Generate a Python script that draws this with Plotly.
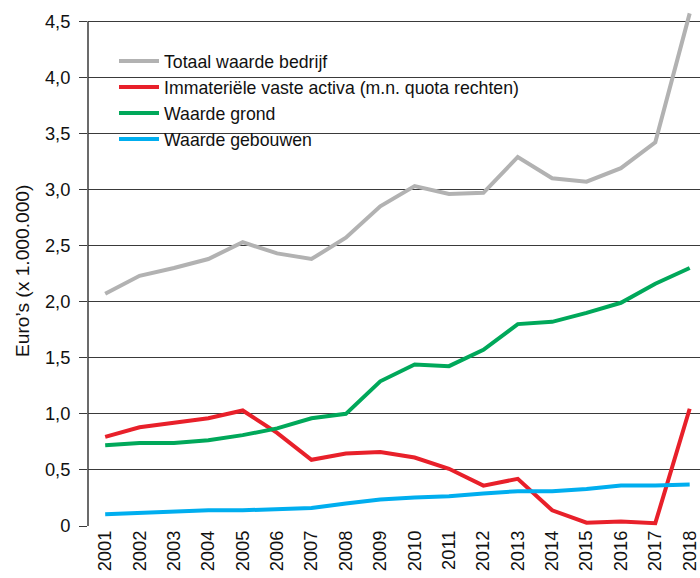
import plotly.graph_objects as go

years = list(range(2001, 2019))
totaal = [2.07, 2.23, 2.30, 2.38, 2.53, 2.43, 2.38, 2.57, 2.85, 3.03, 2.96, 2.97, 3.29, 3.10, 3.07, 3.19, 3.42, 4.57]
immaterieel = [0.795, 0.88, 0.92, 0.96, 1.03, 0.83, 0.59, 0.646, 0.66, 0.61, 0.51, 0.36, 0.42, 0.14, 0.03, 0.04, 0.025, 1.045]
grond = [0.72, 0.74, 0.74, 0.765, 0.81, 0.87, 0.96, 1.00, 1.29, 1.44, 1.425, 1.57, 1.80, 1.82, 1.90, 1.99, 2.16, 2.30]
gebouwen = [0.105, 0.115, 0.125, 0.14, 0.14, 0.15, 0.16, 0.20, 0.236, 0.254, 0.266, 0.29, 0.31, 0.31, 0.33, 0.36, 0.36, 0.37]

series_names = ["Totaal waarde bedrijf", "Immateriële vaste activa (m.n. quota rechten)", "Waarde grond", "Waarde gebouwen"]
series_values = [totaal, immaterieel, grond, gebouwen]
series_colors = ["#b2b2b2", "#e8202a", "#00a85a", "#00aeef"]

ytick_vals = [0, 0.5, 1.0, 1.5, 2.0, 2.5, 3.0, 3.5, 4.0, 4.5]
ytick_text = ["0", "0,5", "1,0", "1,5", "2,0", "2,5", "3,0", "3,5", "4,0", "4,5"]

FONT = "Liberation Sans, Arial, Helvetica, sans-serif"
AX = "#3a3a3a"
TXT = "#111"

fig = go.Figure()
for name, vals, col in zip(series_names, series_values, series_colors):
    fig.add_trace(go.Scatter(x=years, y=vals, name=name, mode="lines",
                             line=dict(color=col, width=4)))

fig.update_layout(
    width=700, height=578,
    margin=dict(l=88, r=0, t=10.4, b=51.5, autoexpand=False),
    paper_bgcolor="white", plot_bgcolor="white",
    font=dict(family=FONT, size=17, color=TXT),
    showlegend=True,
    legend=dict(x=0.0425, y=0.936, xanchor="left", yanchor="top",
                bgcolor="rgba(0,0,0,0)", font=dict(size=17.7, family=FONT, color=TXT),
                itemwidth=40, borderwidth=0),
    xaxis=dict(range=[2000.5, 2018.3], tickvals=years, ticktext=[str(y) for y in years],
               tickangle=-90, showgrid=False, zeroline=False, showline=False,
               automargin=False,
               ticks="", tickfont=dict(size=18.3, family=FONT, color=TXT)),
    yaxis=dict(range=[0, 4.6], tickvals=ytick_vals, ticktext=ytick_text,
               showgrid=True, gridcolor=AX, gridwidth=1.3, zeroline=False,
               automargin=False, ticklabelstandoff=5,
               showline=False, ticks="outside", ticklen=8, tickcolor=AX, tickwidth=1.3,
               tickfont=dict(size=18.3, family=FONT, color=TXT)),
)

# white legend background panel (above gridlines, below data lines)
fig.add_shape(type="rect", xref="paper", yref="paper", x0=0.036, x1=0.7206,
              y0=0.73, y1=0.96, fillcolor="white", line=dict(width=0), layer="between")

# y-axis line from 0 to 4.5
fig.add_shape(type="line", xref="paper", yref="y", x0=0, x1=0, y0=0, y1=ytick_vals[-1],
              line=dict(color=AX, width=1.5), layer="above")

fig.add_annotation(text="Euro’s (x 1.000.000)", textangle=-90, xref="paper", yref="paper",
                   x=-0.108, y=0.494, xanchor="center", yanchor="middle", showarrow=False,
                   font=dict(size=19.2, family=FONT, color=TXT))

fig.write_html("out.html", config={"displayModeBar": False},
               post_script="document.body.style.margin='0';document.body.style.overflow='hidden';")
